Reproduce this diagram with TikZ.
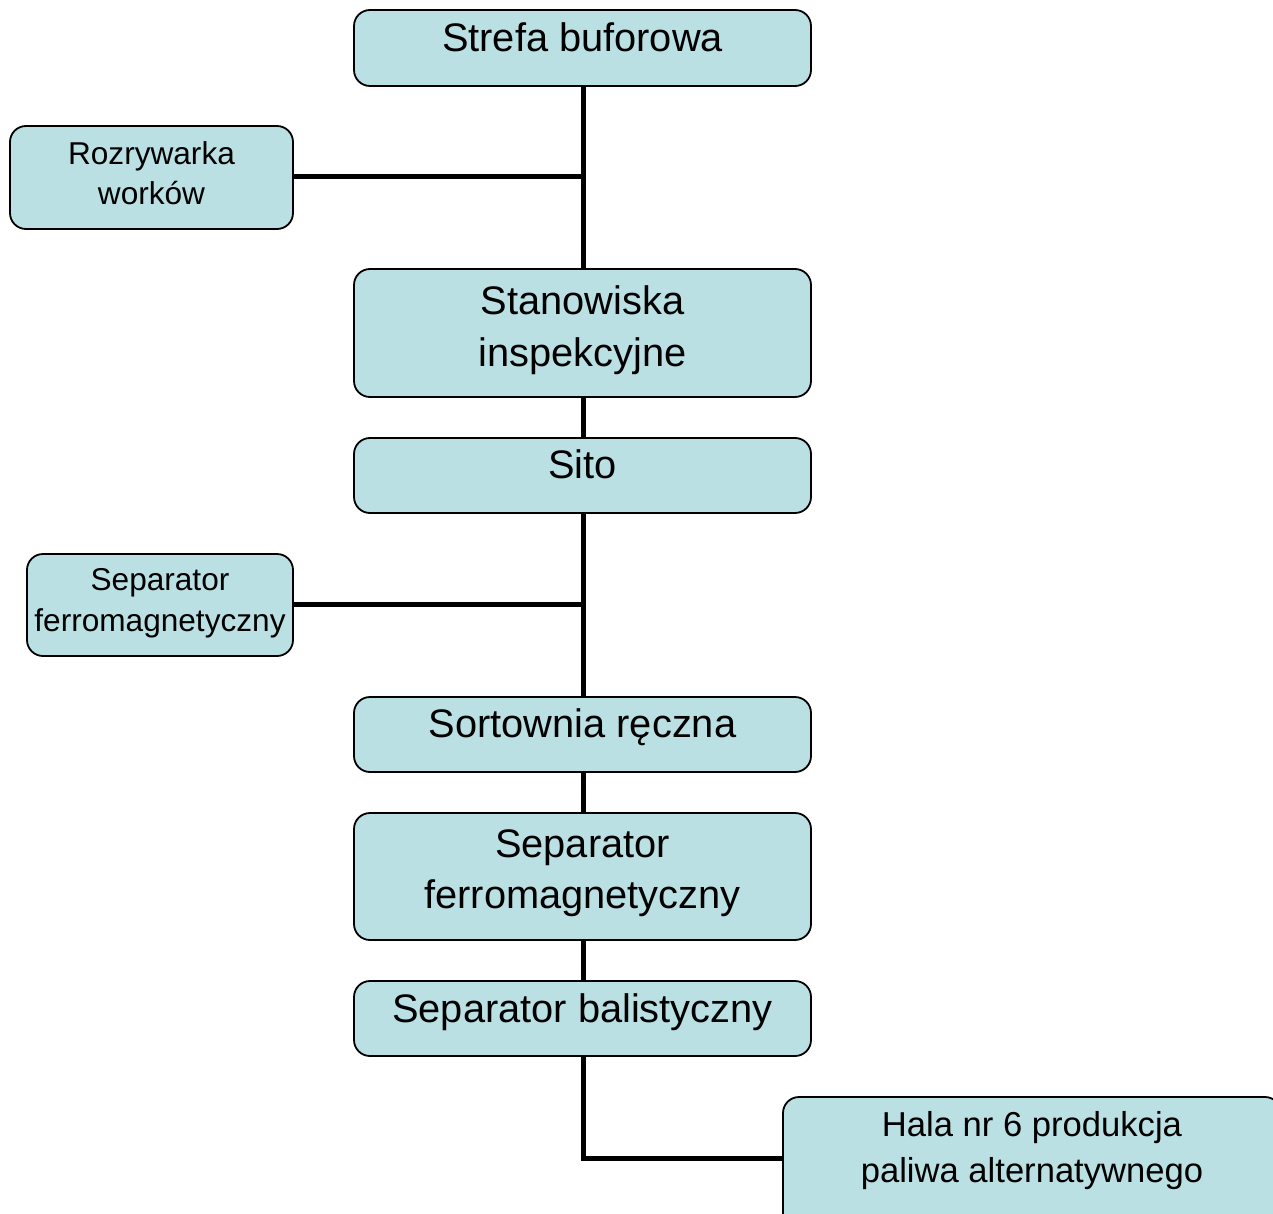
\documentclass[tikz,border=0pt]{standalone}
\usepackage{fontspec}
\setmainfont{Liberation Sans}
\definecolor{boxfill}{RGB}{186,224,227}
\tikzset{
  box/.style={draw=black, line width=1.8pt, fill=boxfill, rounded corners=16pt, inner sep=0pt},
  big/.style={font=\fontsize{39.8}{52}\selectfont, align=center, anchor=base, inner sep=0pt},
  small/.style={font=\fontsize{31.6}{41}\selectfont, align=center, anchor=base, inner sep=0pt},
  hala/.style={font=\fontsize{34.6}{46}\selectfont, align=center, anchor=base, inner sep=0pt},
  conn/.style={line width=5pt, draw=black}
}
\begin{document}
\begin{tikzpicture}[x=1pt,y=-1pt]
\useasboundingbox (0,0) rectangle (1273,1214);
\begin{scope}
\clip (0,0) rectangle (1273,1214);
\coordinate (j1) at (583,177);
\coordinate (j2) at (583,604);
\coordinate (j3) at (583,1158);
% boxes
\node[box, minimum width=457pt, minimum height=76pt] (bstrefa) at (582.5,48) {};
\node[box, minimum width=283pt, minimum height=103pt] (brozr) at (151.5,177.5) {};
\node[box, minimum width=457pt, minimum height=128pt] (bstan) at (582.5,333) {};
\node[box, minimum width=457pt, minimum height=75pt] (bsito) at (582.5,475.5) {};
\node[box, minimum width=266pt, minimum height=102pt] (bsepa) at (160,605) {};
\node[box, minimum width=457pt, minimum height=75pt] (bsort) at (582.5,734.5) {};
\node[box, minimum width=457pt, minimum height=127pt] (bsepb) at (582.5,876.5) {};
\node[box, minimum width=457pt, minimum height=75pt] (bbal) at (582.5,1018.5) {};
\node[box, minimum width=498pt, minimum height=140pt] (bhala) at (1032,1167) {};
% connectors
\draw[conn] (bstrefa.south -| j1) -- (bstan.north -| j1);
\draw[conn] (brozr.east |- j1) -- (j1);
\draw[conn] (bstan.south -| j1) -- (bsito.north -| j1);
\draw[conn] (bsito.south -| j2) -- (bsort.north -| j2);
\draw[conn] (bsepa.east |- j2) -- (j2);
\draw[conn] (bsort.south -| j2) -- (bsepb.north -| j2);
\draw[conn] (bsepb.south -| j2) -- (bbal.north -| j2);
\draw[conn] (bbal.south -| j3) -- (j3) -- (bhala.west |- j3);
% texts
\node[big] (tstrefa) at (582.5,52) {Strefa buforowa};
\node[small] (trozr1) at (151.5,165) {Rozrywarka};
\node[small] (trozr2) at (151.5,205) {worków};
\node[big] (tstan1) at (582.5,314) {Stanowiska};
\node[big] (tstan2) at (582.5,366) {inspekcyjne};
\node[big] (tsito) at (582.5,478) {Sito};
\node[small] (tsepa1) at (160,590) {Separator};
\node[small] (tsepa2) at (160,631) {ferromagnetyczny};
\node[big] (tsort) at (582.5,737) {Sortownia ręczna};
\node[big] (tsepb1) at (582.5,857) {Separator};
\node[big] (tsepb2) at (582.5,908) {ferromagnetyczny};
\node[big] (tbal) at (582.5,1022) {Separator balistyczny};
\node[hala] (thala1) at (1032,1136) {Hala nr 6 produkcja};
\node[hala] (thala2) at (1032,1182) {paliwa alternatywnego};
\end{scope}
\end{tikzpicture}
\end{document}
